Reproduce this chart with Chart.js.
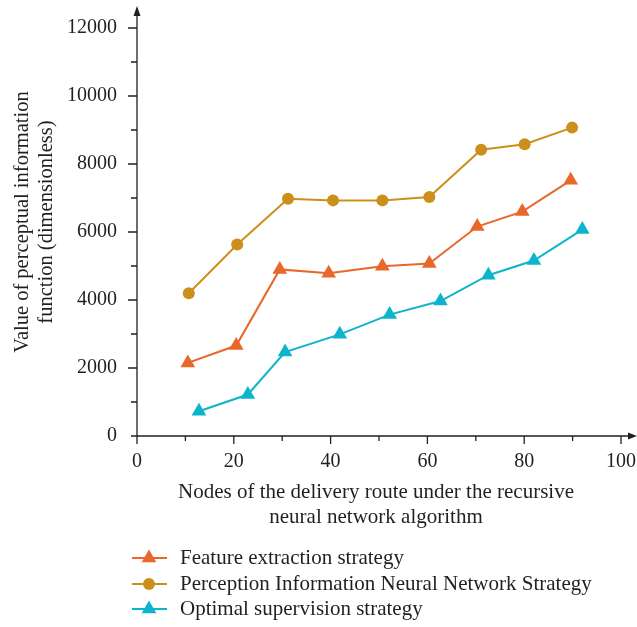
<!DOCTYPE html>
<html>
<head>
<meta charset="utf-8">
<script src="https://cdn.jsdelivr.net/npm/chart.js@4"></script>
<style>
  html, body { margin: 0; padding: 0; background: #fff; }
  #wrap { width: 637px; height: 627px; }
</style>
</head>
<body>
<div id="wrap"><canvas id="chart" width="637" height="627"></canvas></div>
<script>
// values
const seriesNames = ['Feature extraction strategy', 'Perception Information Neural Network Strategy', 'Optimal supervision strategy'];
const nodesFeature = [10.5, 20.5, 29.5, 39.6, 50.7, 60.4, 70.3, 79.6, 89.6];
const feature = [2150, 2660, 4900, 4790, 4990, 5070, 6160, 6600, 7520];
const nodesPerception = [10.7, 20.7, 31.2, 40.5, 50.7, 60.4, 71.1, 80.1, 89.9];
const perception = [4200, 5630, 6980, 6930, 6930, 7030, 8420, 8580, 9070];
const nodesOptimal = [12.8, 22.9, 30.6, 41.9, 52.2, 62.7, 72.6, 82.0, 92.0];
const optimal = [730, 1220, 2470, 2990, 3570, 3970, 4730, 5160, 6070];

const xTitle = ['Nodes of the delivery route under the recursive', 'neural network algorithm'];
const yTitle = ['Value of perceptual information', 'function (dimensionless)'];

const colors = ['#E9672A', '#CD8F1B', '#0DB5CC'];
const FONT = '"Liberation Serif", "DejaVu Serif", serif';

const toPoints = (xs, ys) => xs.map((x, i) => ({ x: x, y: ys[i] }));

// axes with arrows, major/minor ticks, titles and legend
const decorations = {
    id: 'decorations',
    afterDraw(chart) {
        const ctx = chart.ctx;
        const xs = chart.scales.x, ys = chart.scales.y;
        const x0 = xs.getPixelForValue(0), y0 = ys.getPixelForValue(0);
        ctx.save();
        ctx.strokeStyle = '#231f20';
        ctx.fillStyle = '#231f20';
        ctx.lineWidth = 1.3;

        ctx.beginPath();
        ctx.moveTo(x0 - 6, y0); ctx.lineTo(630, y0);
        ctx.moveTo(x0, y0 + 8); ctx.lineTo(x0, 15);
        ctx.stroke();
        // arrow heads
        ctx.beginPath();
        ctx.moveTo(637, y0); ctx.lineTo(628, y0 - 3.5); ctx.lineTo(628, y0 + 3.5); ctx.closePath();
        ctx.moveTo(x0, 6); ctx.lineTo(x0 - 3.5, 16); ctx.lineTo(x0 + 3.5, 16); ctx.closePath();
        ctx.fill();

        ctx.beginPath();
        for (let v = 10; v <= 100; v += 10) {
            const px = xs.getPixelForValue(v);
            ctx.moveTo(px, y0); ctx.lineTo(px, y0 + (v % 20 === 0 ? 8 : 5));
        }
        for (let v = 1000; v <= 12000; v += 1000) {
            const py = ys.getPixelForValue(v);
            ctx.moveTo(x0, py); ctx.lineTo(x0 - (v % 2000 === 0 ? 9 : 6), py);
        }
        ctx.stroke();

        // axis titles
        ctx.textAlign = 'center';
        ctx.textBaseline = 'middle';
        ctx.font = '21px ' + FONT;
        ctx.fillText(xTitle[0], 376, 492);
        ctx.fillText(xTitle[1], 376, 517);
        ctx.save();
        ctx.font = '20.5px ' + FONT;
        ctx.translate(23, 222);
        ctx.rotate(-Math.PI / 2);
        ctx.fillText(yTitle[0], 0, 0);
        ctx.fillText(yTitle[1], 0, 24);
        ctx.restore();

        // legend
        ctx.font = '21px ' + FONT;
        const rows = [558, 584, 609];
        chart.data.datasets.forEach((ds, i) => {
            const y = rows[i];
            ctx.strokeStyle = ds.borderColor;
            ctx.lineWidth = 2;
            ctx.beginPath();
            ctx.moveTo(132, y); ctx.lineTo(167, y);
            ctx.stroke();
            ctx.fillStyle = ds.pointBackgroundColor;
            ctx.beginPath();
            if (ds.pointStyle === 'circle') {
                ctx.arc(149, y, 6, 0, Math.PI * 2);
            } else {
                const r = 8.5;
                ctx.moveTo(149, y - r);
                ctx.lineTo(149 + r * 0.866, y + r / 2);
                ctx.lineTo(149 - r * 0.866, y + r / 2);
                ctx.closePath();
            }
            ctx.fill();
            ctx.fillStyle = '#231f20';
            ctx.textAlign = 'left';
            ctx.fillText(ds.label, 180, y);
        });
        ctx.restore();
    }
};

const makeSet = (label, data, color, style, radius) => ({
    label: label,
    data: data,
    borderColor: color,
    backgroundColor: color,
    pointBackgroundColor: color,
    pointBorderColor: color,
    pointBorderWidth: 0,
    pointStyle: style,
    pointRadius: radius,
    pointHoverRadius: radius,
    borderWidth: 2,
    tension: 0
});

new Chart(document.getElementById('chart'), {
    type: 'line',
    data: {
        datasets: [
            makeSet(seriesNames[0], toPoints(nodesFeature, feature), colors[0], 'triangle', 8.5),
            makeSet(seriesNames[1], toPoints(nodesPerception, perception), colors[1], 'circle', 6),
            makeSet(seriesNames[2], toPoints(nodesOptimal, optimal), colors[2], 'triangle', 8.5)
        ]
    },
    options: {
        responsive: false,
        animation: false,
        layout: { padding: { top: 28, right: 16, left: 0, bottom: 100 } },
        plugins: { legend: { display: false }, tooltip: { enabled: false } },
        scales: {
            x: {
                type: 'linear',
                min: 0, max: 100,
                grid: { display: true, drawOnChartArea: false, color: 'rgba(0,0,0,0)', tickLength: 8 },
                border: { display: false },
                ticks: { stepSize: 20, padding: 6, color: '#231f20', font: { family: FONT, size: 20 }, callback: v => String(v) },
                afterFit: s => { s.height = 627 - 100 - 436; s.paddingLeft = 0; s.paddingRight = 0; }
            },
            y: {
                min: 0, max: 12000,
                grid: { display: true, drawOnChartArea: false, color: 'rgba(0,0,0,0)', tickLength: 9 },
                border: { display: false },
                ticks: { stepSize: 2000, padding: 11, color: '#231f20', font: { family: FONT, size: 20 }, callback: v => String(v) },
                afterFit: s => { s.width = 137; s.paddingTop = 0; s.paddingBottom = 0; }
            }
        }
    },
    plugins: [decorations]
});
</script>
</body>
</html>
